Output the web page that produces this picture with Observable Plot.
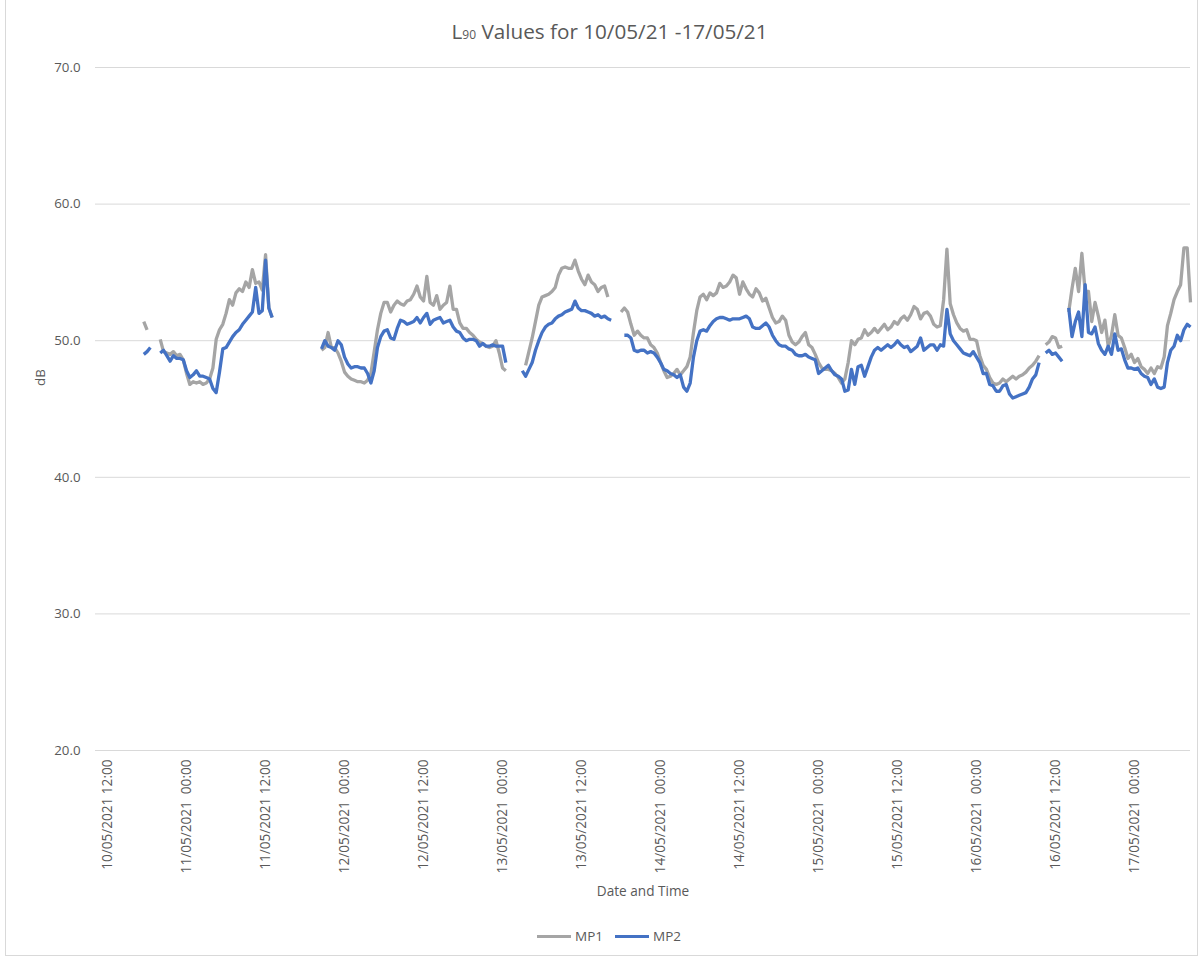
<!DOCTYPE html>
<html><head><meta charset="utf-8">
<script src="https://cdn.jsdelivr.net/npm/d3@7"></script>
<script src="https://cdn.jsdelivr.net/npm/@observablehq/plot@0.6"></script>
<style>
body{margin:0;background:#fff;font-family:"Segoe UI","Open Sans",sans-serif;color:#595959;}
#wrap{position:relative;width:1203px;height:958px;overflow:hidden;}
#frame{position:absolute;left:5px;top:-1px;width:1193px;height:957px;border:1px solid #d9d9d9;box-sizing:border-box;pointer-events:none;}
#title{position:absolute;top:17px;left:8px;width:1203px;text-align:center;font-size:20.7px;color:#595959;white-space:nowrap;}
#title sub{font-size:12px;vertical-align:baseline;}
#chart{position:absolute;top:50px;left:0;}
#legend{position:absolute;top:927px;left:537px;display:flex;align-items:center;font-size:13.5px;color:#595959;}
#legend .sw{display:inline-block;width:34px;height:3px;margin-right:4px;}
#legend .it{display:flex;align-items:center;margin-right:12px;}
</style>
</head><body>
<div id="wrap">
<div id="title">L<sub>90</sub> Values for 10/05/21 -17/05/21</div>
<div id="chart"></div>
<div id="legend"></div>
<div id="frame"></div>
</div>
<script>
const startTime = "2021-05-10T17:30:00Z";
const stepMinutes = 30;
const seriesNames = ["MP1", "MP2"];
const seriesColors = ["#a5a5a5", "#4472c4"];
const yTicks = [20, 30, 40, 50, 60, 70];
const xDomain = ["2021-05-10T10:10:00Z", "2021-05-17T08:30:00Z"];
const xTicks = ["2021-05-10T12:00:00Z","2021-05-11T00:00:00Z","2021-05-11T12:00:00Z","2021-05-12T00:00:00Z",
  "2021-05-12T12:00:00Z","2021-05-13T00:00:00Z","2021-05-13T12:00:00Z","2021-05-14T00:00:00Z",
  "2021-05-14T12:00:00Z","2021-05-15T00:00:00Z","2021-05-15T12:00:00Z","2021-05-16T00:00:00Z",
  "2021-05-16T12:00:00Z","2021-05-17T00:00:00Z"];
const _ = null;
const mp1 = [
51.4,50.8,_,_,_,50.1,49.2,49.1,49.0,49.2,
48.9,49.0,48.6,47.6,46.8,47.0,46.9,47.0,46.8,46.9,
47.2,48.0,50.1,50.8,51.2,52.0,53.0,52.6,53.5,53.8,
53.6,54.3,53.9,55.2,54.2,54.3,53.7,56.3,52.4,51.7,
_,_,_,_,_,_,_,_,_,_,
_,_,_,_,49.3,49.5,50.6,49.5,49.5,49.1,
48.5,47.7,47.4,47.2,47.1,47.0,47.0,46.9,47.1,47.6,
49.2,50.8,52.0,52.8,52.8,52.1,52.6,52.9,52.7,52.6,
52.9,53.0,53.4,54.0,53.2,52.9,54.7,52.8,52.6,53.3,
52.3,52.6,52.8,54.0,52.3,52.3,51.3,50.9,50.9,50.6,
50.4,50.1,49.9,49.8,49.6,49.5,49.6,50.0,49.1,48.0,
47.8,_,_,_,_,_,48.2,49.2,50.2,51.4,
52.6,53.2,53.3,53.4,53.6,53.9,54.8,55.3,55.4,55.3,
55.3,55.9,55.1,54.5,54.1,54.8,54.3,54.1,53.6,53.9,
54.0,53.2,_,_,_,52.1,52.4,52.1,51.2,50.4,
50.7,50.4,50.2,50.2,49.7,49.5,49.1,48.4,47.8,47.3,
47.4,47.6,47.9,47.5,47.8,48.1,48.8,50.6,52.2,53.2,
53.4,53.0,53.5,53.3,53.5,54.2,53.9,54.0,54.3,54.8,
54.6,53.4,54.3,53.8,53.4,53.2,53.8,53.5,52.9,53.1,
52.4,51.7,51.3,51.4,51.8,51.5,50.4,49.9,49.7,49.9,
50.3,50.6,49.7,49.5,49.0,48.4,48.0,47.9,47.9,47.8,
47.6,47.3,46.9,47.2,48.4,50.0,49.7,50.1,50.2,50.8,
50.4,50.6,50.9,50.6,50.9,51.2,50.8,51.0,51.4,51.2,
51.6,51.8,51.5,51.9,52.5,52.3,51.6,52.0,52.1,51.8,
51.2,51.0,51.1,53.0,56.7,52.7,51.9,51.3,50.9,50.7,
50.8,50.1,50.1,50.0,48.9,48.2,47.9,47.3,46.9,46.8,
46.9,47.2,47.0,47.2,47.4,47.2,47.4,47.5,47.7,48.0,
48.2,48.5,48.9,_,49.7,49.9,50.3,50.2,49.5,49.6,
_,52.1,53.8,55.3,53.6,56.4,53.6,53.6,51.4,52.8,
51.8,50.6,51.5,49.6,50.4,51.9,50.4,50.2,49.5,48.7,
49.0,48.4,48.7,48.1,47.9,47.6,48.0,47.6,48.1,48.0,
48.8,51.1,52.0,53.0,53.6,54.1,56.8,56.8,52.8
];
const mp2 = [
49.0,49.2,49.5,_,_,49.1,49.3,48.9,48.5,48.9,
48.7,48.7,48.6,47.8,47.3,47.5,47.8,47.4,47.4,47.3,
47.2,46.5,46.2,47.7,49.4,49.5,49.9,50.3,50.6,50.8,
51.2,51.5,51.8,52.1,53.9,52.0,52.2,55.9,52.4,51.7,
_,_,_,_,_,_,_,_,_,_,
_,_,_,_,49.4,50.0,49.6,49.5,49.3,50.0,
49.7,48.8,48.3,48.0,48.1,48.1,48.0,48.0,47.6,46.9,
47.8,49.5,50.3,50.7,50.8,50.2,50.1,50.9,51.5,51.4,
51.2,51.3,51.4,51.7,51.3,51.7,52.0,51.2,51.5,51.6,
51.7,51.3,51.4,51.5,51.0,50.7,50.6,50.2,50.0,50.1,
50.1,50.0,49.6,49.8,49.6,49.6,49.7,49.6,49.6,49.6,
48.4,_,_,_,_,47.8,47.4,47.9,48.4,49.3,
50.0,50.6,51.0,51.2,51.3,51.6,51.8,51.9,52.1,52.2,
52.3,52.9,52.4,52.2,52.2,52.1,52.0,51.8,51.9,51.7,
51.8,51.6,51.5,_,_,_,50.4,50.4,50.2,49.3,
49.2,49.3,49.3,49.1,49.2,49.1,48.8,48.4,47.9,47.8,
47.6,47.5,47.3,47.5,46.6,46.3,46.9,48.8,50.0,50.7,
50.8,50.7,51.1,51.4,51.6,51.7,51.7,51.6,51.5,51.6,
51.6,51.6,51.7,51.8,51.6,51.0,50.9,50.9,51.1,51.3,
51.0,50.4,50.0,49.7,49.6,49.6,49.4,49.3,49.0,48.9,
48.9,49.0,48.8,48.7,48.6,47.6,47.8,48.0,48.2,47.8,
47.5,47.4,47.2,46.3,46.4,47.9,46.8,48.1,48.2,47.4,
48.1,48.8,49.3,49.5,49.3,49.5,49.7,49.5,49.7,50.0,
49.7,49.5,49.6,49.2,49.4,49.6,50.2,49.3,49.5,49.7,
49.7,49.3,49.7,49.6,52.3,50.5,50.0,49.7,49.4,49.1,
49.0,48.9,49.2,48.8,48.4,47.6,47.6,46.8,46.7,46.3,
46.3,46.7,46.8,46.1,45.8,45.9,46.0,46.1,46.2,46.6,
47.2,47.5,48.4,_,49.1,49.3,49.0,49.1,48.8,48.5,
_,52.4,50.3,51.4,52.1,50.3,54.1,50.6,50.5,51.0,
49.8,49.3,49.0,49.6,49.0,50.5,49.3,49.4,48.6,48.0,
48.0,47.9,48.0,47.6,47.4,47.3,46.8,47.2,46.6,46.5,
46.6,48.4,49.3,49.6,50.4,50.0,50.8,51.2,51.0
];
const yLabel = "dB";

const t0 = new Date(startTime).getTime();
const rows = [];
[mp1, mp2].forEach((arr, s) => arr.forEach((v, i) => {
  rows.push({time: new Date(t0 + i * stepMinutes * 60000), series: seriesNames[s], value: v});
}));

const pad = n => String(n).padStart(2, "0");
const fmtTick = d => {
  const h = d.getUTCHours();
  return `${pad(d.getUTCDate())}/${pad(d.getUTCMonth() + 1)}/${d.getUTCFullYear()}${h === 0 ? "\u00a0 " : " "}${pad(h)}:${pad(d.getUTCMinutes())}`;
};

const chart = Plot.plot({
  width: 1203,
  height: 860,
  marginLeft: 95,
  marginRight: 13,
  marginTop: 17,
  marginBottom: 160,
  style: {fontFamily: '"Segoe UI","Open Sans",sans-serif', color: "#595959", background: "transparent"},
  x: {type: "utc", domain: xDomain.map(d => new Date(d))},
  y: {domain: [20, 70]},
  color: {domain: seriesNames, range: seriesColors},
  marks: [
    Plot.gridY(yTicks, {stroke: "#d9d9d9", strokeOpacity: 1, strokeWidth: 1}),
    Plot.axisY(yTicks, {tickSize: 0, tickPadding: 15, tickFormat: d => d.toFixed(1), fontSize: 13.3, fill: "#595959", label: null}),
    Plot.text([yLabel], {frameAnchor: "left", dx: -55, dy: -23, rotate: -90, fontSize: 13.3, fill: "#595959"}),
    Plot.axisX(xTicks.map(d => new Date(d)), {tickSize: 0, tickPadding: 9, tickRotate: -90, tickFormat: fmtTick,
      fontSize: 13.6, fill: "#595959", label: "Date and Time", labelAnchor: "center", labelOffset: 145, labelArrow: "none"}),
    Plot.line(rows, {x: "time", y: "value", z: "series", stroke: "series", strokeWidth: 3.3, strokeLinejoin: "round", strokeLinecap: "butt"})
  ]
});
document.getElementById("chart").appendChild(chart);

const legend = document.getElementById("legend");
seriesNames.forEach((name, i) => {
  const it = document.createElement("div");
  it.className = "it";
  const sw = document.createElement("span");
  sw.className = "sw";
  sw.style.background = seriesColors[i];
  const tx = document.createElement("span");
  tx.textContent = name;
  it.appendChild(sw); it.appendChild(tx);
  legend.appendChild(it);
});
</script>
</body></html>
